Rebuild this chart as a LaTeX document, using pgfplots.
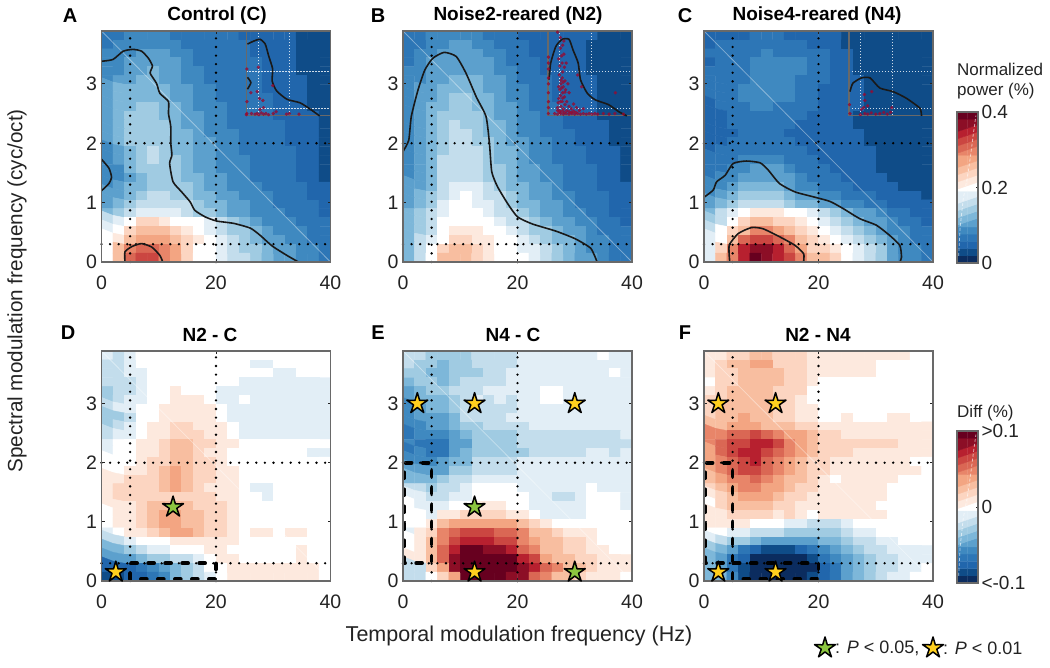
\documentclass[border=0pt]{standalone}
\usepackage{fontspec}
\setmainfont{Liberation Sans}
\usepackage{pgfplots}
\usepackage{pgfplotstable}
\pgfplotsset{compat=1.18}

% levels 0..20 of the colour scale, top row of each panel first, 20 cols (2 Hz)
\pgfplotstableread[row sep=crcr,header=false]{
3\\3\\4\\4\\4\\4\\3\\3\\3\\3\\3\\3\\2\\2\\2\\2\\2\\1\\1\\1\\
3\\4\\4\\4\\4\\4\\4\\3\\3\\3\\3\\3\\3\\2\\2\\2\\2\\1\\1\\1\\
4\\4\\4\\5\\5\\5\\4\\4\\3\\3\\3\\3\\3\\2\\2\\2\\2\\1\\1\\1\\
4\\4\\5\\5\\5\\5\\5\\4\\3\\3\\3\\3\\3\\3\\2\\2\\2\\1\\1\\1\\
4\\4\\5\\5\\6\\5\\5\\4\\4\\3\\3\\3\\3\\3\\2\\2\\2\\1\\1\\1\\
4\\5\\5\\6\\6\\5\\5\\4\\4\\3\\3\\3\\3\\3\\2\\2\\2\\2\\1\\1\\
5\\6\\6\\6\\6\\6\\5\\5\\4\\4\\3\\3\\3\\3\\2\\2\\2\\2\\1\\1\\
5\\6\\6\\6\\6\\6\\5\\5\\4\\4\\3\\3\\3\\3\\3\\2\\2\\2\\1\\1\\
5\\6\\6\\7\\7\\6\\6\\5\\4\\4\\4\\3\\3\\3\\3\\2\\2\\2\\1\\1\\
5\\6\\7\\7\\7\\6\\6\\5\\5\\4\\4\\3\\3\\3\\3\\2\\2\\2\\2\\1\\
5\\6\\7\\7\\7\\7\\6\\5\\5\\4\\4\\3\\3\\3\\3\\3\\2\\2\\2\\1\\
5\\6\\7\\7\\7\\7\\6\\6\\5\\4\\4\\4\\3\\3\\3\\3\\2\\2\\2\\1\\
5\\6\\7\\7\\7\\7\\6\\6\\5\\5\\4\\4\\3\\3\\3\\3\\2\\2\\2\\1\\
4\\5\\6\\7\\8\\7\\6\\6\\5\\5\\4\\4\\3\\3\\3\\3\\3\\2\\2\\1\\
4\\5\\6\\7\\8\\7\\7\\6\\5\\5\\4\\4\\4\\3\\3\\3\\3\\2\\2\\1\\
4\\4\\6\\7\\7\\7\\7\\6\\5\\5\\4\\4\\4\\3\\3\\3\\3\\2\\2\\1\\
4\\4\\5\\6\\7\\7\\7\\6\\6\\5\\5\\4\\4\\3\\3\\3\\3\\2\\2\\1\\
4\\5\\6\\6\\7\\7\\7\\7\\6\\5\\5\\4\\4\\4\\3\\3\\3\\3\\2\\2\\
5\\5\\6\\7\\8\\8\\7\\7\\6\\6\\5\\5\\4\\4\\4\\3\\3\\3\\2\\2\\
5\\6\\7\\8\\8\\8\\8\\8\\7\\6\\6\\5\\5\\4\\4\\3\\3\\3\\3\\2\\
6\\7\\8\\9\\9\\9\\9\\8\\7\\7\\6\\5\\5\\4\\4\\4\\3\\3\\3\\2\\
8\\9\\10\\12\\12\\11\\10\\10\\10\\9\\8\\7\\6\\5\\4\\4\\4\\3\\3\\3\\
9\\10\\12\\13\\13\\13\\12\\11\\10\\9\\8\\7\\7\\6\\5\\4\\4\\4\\3\\3\\
10\\11\\13\\14\\14\\14\\13\\12\\11\\10\\9\\8\\7\\6\\5\\5\\4\\4\\3\\3\\
10\\13\\15\\16\\16\\15\\14\\12\\10\\10\\9\\8\\7\\7\\6\\5\\5\\4\\4\\3\\
10\\13\\16\\17\\17\\15\\14\\12\\10\\10\\9\\8\\8\\7\\6\\5\\5\\4\\4\\3\\
}\tabA
\pgfplotstableread[row sep=crcr,header=false]{
3\\3\\4\\4\\4\\4\\4\\3\\3\\3\\2\\2\\2\\2\\2\\2\\2\\1\\1\\1\\
3\\3\\4\\4\\5\\5\\4\\4\\3\\3\\3\\2\\2\\2\\2\\2\\1\\1\\1\\1\\
3\\4\\4\\5\\5\\5\\5\\4\\4\\3\\3\\2\\2\\2\\2\\2\\1\\1\\1\\1\\
3\\4\\5\\5\\5\\5\\5\\5\\4\\3\\3\\3\\2\\2\\2\\2\\1\\1\\1\\1\\
4\\4\\5\\5\\5\\5\\5\\5\\4\\4\\3\\3\\2\\2\\2\\2\\1\\1\\1\\1\\
4\\4\\5\\5\\6\\6\\6\\5\\5\\4\\3\\3\\3\\2\\2\\2\\2\\1\\1\\1\\
4\\5\\5\\6\\6\\6\\6\\5\\5\\4\\4\\3\\3\\2\\2\\2\\2\\1\\1\\1\\
4\\5\\5\\6\\7\\7\\6\\6\\5\\4\\4\\3\\3\\2\\2\\2\\2\\1\\1\\1\\
4\\5\\6\\6\\7\\7\\6\\6\\5\\5\\4\\3\\3\\3\\2\\2\\2\\1\\1\\1\\
4\\5\\6\\7\\7\\7\\7\\6\\5\\5\\4\\4\\3\\3\\2\\2\\2\\1\\1\\1\\
4\\5\\6\\7\\8\\7\\7\\6\\6\\5\\4\\4\\3\\3\\2\\2\\2\\2\\1\\1\\
4\\5\\6\\7\\8\\8\\7\\6\\6\\5\\4\\4\\3\\3\\3\\2\\2\\2\\1\\1\\
4\\5\\6\\7\\8\\8\\7\\7\\6\\5\\5\\4\\4\\3\\3\\2\\2\\2\\1\\1\\
4\\5\\6\\7\\8\\8\\8\\7\\6\\6\\5\\4\\4\\3\\3\\3\\2\\2\\2\\1\\
4\\5\\6\\8\\8\\8\\8\\7\\6\\6\\5\\4\\4\\3\\3\\3\\2\\2\\2\\1\\
4\\5\\6\\8\\8\\8\\8\\7\\7\\6\\5\\5\\4\\4\\3\\3\\3\\2\\2\\1\\
4\\5\\6\\8\\8\\8\\8\\7\\7\\6\\5\\5\\4\\4\\3\\3\\3\\2\\2\\1\\
5\\5\\6\\8\\9\\9\\9\\8\\7\\6\\6\\5\\5\\4\\3\\3\\3\\2\\2\\2\\
5\\6\\7\\8\\9\\10\\9\\8\\8\\7\\6\\5\\5\\4\\4\\3\\3\\3\\2\\2\\
5\\6\\7\\9\\10\\10\\9\\9\\8\\7\\6\\6\\5\\5\\4\\3\\3\\3\\2\\2\\
6\\7\\8\\9\\10\\10\\10\\9\\8\\8\\7\\6\\5\\5\\4\\4\\3\\3\\2\\2\\
6\\7\\8\\10\\10\\10\\10\\10\\9\\8\\8\\7\\6\\5\\5\\4\\4\\3\\3\\2\\
6\\7\\8\\10\\11\\11\\11\\10\\10\\9\\8\\7\\7\\6\\5\\5\\4\\3\\3\\3\\
6\\8\\9\\10\\12\\12\\11\\11\\10\\10\\9\\8\\7\\6\\6\\5\\4\\4\\3\\3\\
6\\8\\10\\12\\13\\13\\12\\11\\10\\10\\9\\9\\8\\7\\6\\5\\4\\4\\3\\3\\
6\\8\\10\\13\\13\\13\\12\\11\\10\\10\\10\\9\\8\\7\\6\\5\\5\\4\\3\\3\\
}\tabB
\pgfplotstableread[row sep=crcr,header=false]{
2\\2\\2\\2\\3\\3\\3\\2\\2\\2\\2\\2\\1\\1\\1\\1\\1\\1\\1\\1\\
2\\3\\3\\3\\3\\3\\3\\3\\3\\2\\2\\2\\1\\1\\1\\1\\1\\1\\1\\1\\
3\\3\\3\\3\\3\\4\\3\\3\\3\\3\\3\\2\\2\\1\\1\\1\\1\\1\\1\\1\\
2\\3\\3\\3\\4\\4\\4\\4\\4\\3\\3\\2\\2\\1\\1\\1\\1\\1\\1\\1\\
3\\3\\3\\3\\4\\4\\4\\4\\4\\3\\3\\2\\2\\1\\1\\1\\1\\1\\1\\1\\
3\\3\\3\\3\\4\\4\\4\\4\\3\\3\\3\\2\\2\\2\\1\\1\\1\\1\\1\\1\\
3\\3\\3\\4\\4\\4\\4\\4\\3\\3\\2\\2\\2\\2\\1\\1\\1\\1\\1\\1\\
3\\3\\3\\4\\4\\4\\4\\4\\3\\3\\2\\2\\2\\2\\1\\1\\1\\1\\1\\1\\
2\\3\\3\\3\\4\\4\\3\\3\\3\\3\\2\\2\\2\\2\\1\\1\\1\\1\\1\\1\\
2\\2\\3\\3\\3\\3\\3\\3\\3\\2\\2\\2\\2\\1\\1\\1\\1\\1\\1\\1\\
2\\2\\3\\3\\3\\3\\3\\3\\2\\2\\2\\2\\2\\1\\1\\1\\1\\1\\1\\1\\
2\\2\\2\\3\\3\\3\\3\\2\\2\\2\\2\\2\\2\\2\\1\\1\\1\\1\\1\\1\\
2\\2\\3\\3\\3\\3\\3\\3\\2\\2\\2\\2\\2\\2\\1\\1\\1\\1\\1\\1\\
2\\3\\3\\3\\3\\3\\3\\3\\3\\2\\2\\2\\2\\2\\2\\1\\1\\1\\1\\1\\
3\\3\\3\\4\\4\\4\\4\\3\\3\\3\\2\\2\\2\\2\\2\\1\\1\\1\\1\\1\\
3\\3\\4\\4\\5\\5\\5\\4\\3\\3\\3\\2\\2\\2\\2\\1\\1\\1\\1\\1\\
3\\4\\4\\5\\5\\5\\5\\5\\4\\3\\3\\3\\2\\2\\2\\2\\1\\1\\1\\1\\
4\\4\\5\\6\\6\\6\\6\\5\\4\\4\\3\\3\\3\\2\\2\\2\\2\\1\\1\\1\\
4\\5\\6\\7\\7\\7\\7\\6\\5\\5\\4\\4\\3\\3\\3\\2\\2\\2\\2\\1\\
5\\6\\7\\8\\8\\8\\8\\7\\6\\6\\5\\5\\4\\4\\3\\3\\2\\2\\2\\2\\
6\\8\\9\\10\\11\\11\\11\\10\\10\\9\\8\\7\\6\\5\\5\\4\\3\\3\\2\\2\\
7\\8\\10\\12\\13\\13\\12\\12\\11\\10\\9\\8\\7\\6\\5\\5\\4\\3\\3\\2\\
8\\10\\12\\13\\15\\15\\14\\13\\12\\11\\10\\9\\8\\7\\6\\5\\4\\4\\3\\3\\
9\\10\\13\\16\\17\\17\\16\\15\\13\\12\\11\\10\\9\\8\\7\\6\\5\\4\\3\\3\\
9\\12\\15\\18\\19\\19\\18\\16\\14\\12\\12\\11\\10\\9\\8\\7\\5\\4\\4\\3\\
9\\13\\15\\18\\20\\19\\18\\17\\15\\13\\13\\12\\10\\9\\8\\7\\5\\4\\4\\3\\
}\tabC
\pgfplotstableread[row sep=crcr,header=false]{
9\\8\\9\\10\\10\\10\\10\\10\\10\\10\\10\\10\\10\\10\\10\\10\\10\\10\\10\\10\\
8\\8\\9\\10\\10\\10\\10\\10\\10\\10\\10\\10\\10\\9\\9\\10\\10\\10\\10\\10\\
8\\8\\9\\9\\10\\10\\10\\10\\10\\10\\10\\10\\10\\10\\10\\9\\9\\10\\10\\10\\
8\\8\\8\\9\\10\\10\\10\\10\\10\\10\\10\\10\\9\\9\\9\\9\\9\\9\\9\\9\\
7\\8\\8\\9\\10\\10\\11\\10\\10\\10\\9\\9\\9\\9\\9\\9\\9\\9\\9\\9\\
7\\8\\9\\9\\10\\10\\11\\11\\11\\10\\9\\9\\10\\9\\9\\9\\9\\9\\9\\9\\
8\\9\\9\\10\\10\\11\\11\\11\\11\\11\\10\\9\\9\\9\\9\\9\\9\\9\\9\\9\\
7\\7\\8\\10\\10\\11\\11\\11\\11\\11\\10\\9\\9\\9\\9\\9\\9\\9\\9\\9\\
7\\8\\9\\10\\11\\11\\12\\12\\11\\11\\11\\10\\9\\9\\9\\9\\9\\9\\9\\9\\
8\\9\\9\\10\\11\\11\\12\\12\\12\\11\\11\\10\\9\\9\\9\\9\\9\\9\\9\\9\\
9\\10\\10\\11\\11\\12\\13\\13\\12\\12\\11\\11\\10\\10\\10\\10\\10\\10\\10\\10\\
9\\10\\10\\11\\11\\12\\13\\13\\12\\11\\11\\10\\10\\10\\10\\10\\10\\10\\9\\9\\
10\\10\\10\\11\\12\\12\\13\\13\\12\\12\\11\\10\\10\\10\\10\\10\\10\\10\\10\\10\\
10\\10\\11\\11\\12\\13\\14\\13\\12\\12\\11\\11\\10\\10\\10\\10\\10\\10\\10\\10\\
11\\11\\12\\12\\12\\13\\14\\13\\12\\12\\11\\11\\10\\10\\10\\10\\10\\10\\10\\10\\
11\\12\\12\\12\\12\\13\\14\\13\\12\\11\\11\\11\\10\\9\\9\\10\\10\\10\\10\\10\\
11\\12\\12\\12\\12\\12\\12\\12\\12\\12\\11\\11\\10\\10\\9\\10\\10\\10\\10\\10\\
11\\11\\11\\12\\13\\13\\13\\13\\12\\12\\12\\11\\10\\10\\10\\10\\10\\10\\10\\10\\
10\\11\\11\\12\\13\\14\\14\\13\\13\\12\\12\\11\\10\\10\\10\\10\\10\\10\\10\\10\\
10\\11\\11\\12\\13\\14\\14\\13\\13\\12\\12\\11\\10\\10\\10\\10\\10\\10\\10\\10\\
9\\10\\11\\11\\12\\13\\14\\14\\13\\12\\12\\11\\10\\11\\11\\10\\11\\11\\10\\10\\
8\\8\\9\\10\\10\\10\\11\\11\\11\\11\\11\\11\\10\\10\\10\\10\\10\\10\\10\\10\\
6\\6\\7\\8\\9\\9\\10\\10\\10\\11\\11\\10\\10\\10\\10\\10\\10\\11\\10\\10\\
5\\5\\5\\6\\7\\7\\8\\8\\9\\10\\11\\11\\10\\10\\10\\10\\10\\11\\10\\10\\
2\\2\\2\\3\\4\\5\\6\\7\\8\\10\\10\\11\\11\\11\\11\\11\\11\\11\\11\\10\\
1\\1\\2\\2\\3\\4\\6\\7\\8\\9\\10\\11\\11\\11\\11\\11\\11\\11\\11\\10\\
}\tabD
\pgfplotstableread[row sep=crcr,header=false]{
8\\8\\7\\7\\7\\7\\8\\8\\8\\8\\9\\9\\9\\9\\9\\9\\9\\10\\9\\9\\
8\\7\\7\\6\\7\\7\\8\\8\\8\\8\\9\\9\\9\\9\\9\\9\\9\\9\\9\\9\\
7\\7\\6\\6\\7\\7\\7\\8\\8\\9\\9\\9\\9\\9\\9\\9\\9\\9\\10\\9\\
6\\7\\7\\6\\7\\8\\8\\8\\8\\9\\9\\9\\9\\9\\9\\9\\9\\9\\9\\9\\
5\\6\\7\\7\\8\\8\\8\\9\\9\\9\\9\\9\\10\\10\\9\\9\\9\\9\\9\\9\\
5\\6\\6\\6\\7\\8\\9\\8\\9\\8\\9\\9\\10\\10\\9\\9\\9\\9\\9\\9\\
4\\5\\6\\6\\7\\8\\8\\8\\8\\8\\9\\9\\9\\9\\9\\9\\9\\9\\9\\9\\
4\\5\\5\\5\\6\\8\\8\\8\\8\\9\\9\\9\\9\\9\\9\\9\\9\\9\\9\\9\\
4\\4\\5\\5\\6\\7\\7\\8\\8\\8\\8\\9\\9\\9\\9\\9\\9\\9\\9\\9\\
3\\4\\4\\4\\5\\6\\7\\7\\7\\7\\8\\8\\8\\8\\8\\8\\8\\8\\8\\9\\
4\\3\\3\\3\\5\\5\\7\\7\\7\\7\\8\\8\\8\\8\\8\\8\\8\\8\\8\\8\\
3\\4\\3\\3\\5\\6\\7\\7\\7\\7\\7\\8\\8\\8\\8\\8\\9\\9\\8\\9\\
4\\4\\4\\5\\6\\6\\8\\8\\8\\8\\9\\9\\9\\9\\9\\9\\9\\9\\9\\9\\
5\\5\\5\\5\\7\\7\\8\\8\\8\\8\\9\\9\\9\\9\\9\\9\\9\\9\\9\\9\\
6\\6\\6\\7\\8\\8\\9\\9\\9\\9\\9\\9\\9\\9\\9\\9\\9\\9\\9\\9\\
8\\8\\7\\8\\8\\9\\10\\10\\10\\10\\9\\9\\9\\9\\9\\9\\10\\9\\9\\9\\
9\\9\\8\\8\\9\\9\\10\\10\\10\\10\\10\\9\\9\\8\\8\\9\\10\\10\\10\\9\\
10\\9\\9\\9\\10\\10\\11\\11\\11\\10\\10\\9\\9\\9\\9\\9\\10\\10\\10\\9\\
10\\10\\9\\11\\11\\12\\12\\12\\12\\11\\11\\10\\9\\9\\9\\9\\10\\10\\10\\10\\
10\\10\\11\\13\\14\\14\\14\\14\\14\\14\\13\\12\\11\\10\\10\\10\\10\\10\\10\\10\\
9\\11\\12\\15\\16\\17\\17\\17\\16\\16\\15\\13\\13\\12\\11\\11\\11\\10\\10\\10\\
10\\11\\13\\15\\17\\18\\18\\18\\17\\17\\15\\14\\13\\13\\12\\12\\11\\10\\10\\10\\
10\\11\\13\\16\\18\\20\\20\\19\\19\\18\\16\\15\\13\\13\\12\\12\\11\\11\\10\\10\\
11\\11\\13\\16\\19\\20\\20\\20\\20\\20\\18\\17\\14\\13\\13\\12\\12\\11\\11\\11\\
8\\8\\12\\14\\19\\20\\20\\20\\20\\20\\19\\18\\16\\15\\13\\13\\12\\11\\11\\11\\
8\\8\\10\\12\\14\\20\\20\\20\\20\\19\\19\\16\\15\\13\\13\\12\\11\\11\\11\\10\\
}\tabE
\pgfplotstableread[row sep=crcr,header=false]{
11\\11\\12\\12\\13\\13\\12\\12\\12\\11\\11\\11\\11\\11\\11\\11\\11\\11\\10\\10\\
11\\12\\13\\13\\14\\14\\12\\12\\12\\11\\11\\11\\11\\11\\11\\10\\10\\10\\10\\10\\
11\\12\\12\\13\\13\\13\\13\\12\\12\\11\\11\\11\\11\\11\\11\\10\\10\\10\\10\\10\\
10\\12\\12\\13\\13\\13\\13\\12\\12\\11\\10\\10\\10\\10\\10\\10\\10\\10\\10\\10\\
11\\12\\13\\13\\13\\13\\12\\12\\12\\10\\10\\10\\10\\10\\10\\10\\10\\10\\10\\10\\
12\\12\\13\\13\\13\\13\\12\\12\\11\\10\\10\\10\\10\\10\\10\\10\\10\\10\\10\\10\\
12\\13\\13\\13\\13\\13\\12\\12\\11\\11\\10\\10\\10\\10\\10\\10\\10\\10\\10\\10\\
12\\13\\13\\14\\13\\13\\12\\12\\11\\11\\10\\10\\11\\10\\10\\10\\11\\11\\10\\10\\
13\\13\\14\\14\\14\\13\\13\\13\\12\\12\\11\\11\\11\\11\\11\\11\\11\\11\\11\\11\\
15\\15\\16\\16\\17\\16\\15\\14\\14\\13\\12\\12\\11\\11\\11\\11\\11\\11\\11\\11\\
15\\16\\17\\17\\18\\18\\17\\15\\14\\13\\12\\12\\12\\12\\12\\12\\12\\11\\11\\11\\
14\\16\\17\\18\\18\\17\\16\\15\\14\\13\\12\\12\\12\\11\\11\\11\\11\\11\\11\\11\\
14\\15\\16\\17\\18\\16\\15\\14\\13\\12\\12\\11\\11\\11\\11\\11\\11\\11\\10\\10\\
14\\15\\16\\17\\17\\16\\15\\14\\13\\12\\12\\11\\11\\11\\11\\11\\11\\11\\11\\10\\
13\\14\\15\\15\\16\\15\\14\\13\\13\\12\\11\\10\\11\\11\\11\\11\\11\\10\\10\\10\\
12\\13\\14\\15\\15\\14\\14\\13\\12\\12\\11\\11\\11\\11\\11\\11\\10\\10\\10\\10\\
11\\12\\13\\14\\14\\14\\13\\12\\12\\11\\11\\11\\11\\11\\11\\11\\10\\10\\10\\10\\
10\\12\\13\\13\\13\\13\\12\\12\\11\\11\\11\\11\\11\\11\\11\\10\\10\\10\\10\\10\\
11\\11\\12\\12\\12\\12\\11\\12\\11\\10\\11\\11\\11\\11\\11\\11\\10\\10\\10\\10\\
11\\11\\11\\11\\10\\10\\10\\9\\9\\8\\8\\8\\9\\10\\10\\10\\10\\10\\10\\10\\
10\\10\\9\\9\\8\\8\\8\\7\\7\\7\\7\\7\\8\\9\\9\\10\\10\\10\\10\\10\\
9\\8\\7\\7\\6\\5\\5\\5\\5\\5\\6\\6\\7\\8\\8\\9\\9\\10\\10\\10\\
7\\6\\5\\3\\2\\1\\1\\1\\2\\3\\4\\5\\6\\7\\8\\8\\9\\9\\9\\9\\
6\\5\\3\\2\\0\\0\\0\\0\\0\\1\\3\\4\\5\\6\\7\\8\\8\\9\\9\\9\\
6\\5\\3\\1\\0\\0\\0\\0\\0\\0\\2\\3\\5\\6\\7\\8\\8\\9\\9\\10\\
6\\6\\4\\1\\0\\0\\0\\0\\0\\1\\2\\3\\5\\6\\7\\8\\9\\9\\10\\10\\
}\tabF
\pgfplotstableread[row sep=crcr,header=false]{
0\\0\\1\\1\\2\\2\\3\\3\\4\\4\\5\\5\\6\\6\\7\\7\\8\\8\\9\\9\\10\\10\\
11\\11\\12\\12\\13\\13\\14\\14\\15\\15\\16\\16\\17\\17\\18\\18\\19\\19\\20\\20\\
}\tabBar

\pgfdeclareplotmark{astar}{%
  \pgfpathmoveto{\pgfpointpolar{90}{\pgfplotmarksize}}%
  \pgfpathlineto{\pgfpointpolar{126}{.36*\pgfplotmarksize}}%
  \pgfpathlineto{\pgfpointpolar{162}{\pgfplotmarksize}}%
  \pgfpathlineto{\pgfpointpolar{198}{.36*\pgfplotmarksize}}%
  \pgfpathlineto{\pgfpointpolar{234}{\pgfplotmarksize}}%
  \pgfpathlineto{\pgfpointpolar{270}{.36*\pgfplotmarksize}}%
  \pgfpathlineto{\pgfpointpolar{306}{\pgfplotmarksize}}%
  \pgfpathlineto{\pgfpointpolar{342}{.36*\pgfplotmarksize}}%
  \pgfpathlineto{\pgfpointpolar{18}{\pgfplotmarksize}}%
  \pgfpathlineto{\pgfpointpolar{54}{.36*\pgfplotmarksize}}%
  \pgfpathclose\pgfusepathqfillstroke}

\definecolor{sigG}{RGB}{140,198,63}
\definecolor{sigY}{RGB}{255,208,30}
\definecolor{axgray}{RGB}{105,105,105}
\definecolor{txt}{RGB}{35,35,35}
\definecolor{reddot}{RGB}{150,10,50}

\pgfplotsset{
  rdbu/.style={colormap={rdbu}{
    rgb255=(11,44,95) rgb255=(15,76,136) rgb255=(33,102,172) rgb255=(45,118,182)
    rgb255=(63,137,192) rgb255=(92,160,205) rgb255=(125,183,217) rgb255=(160,203,226)
    rgb255=(195,221,236) rgb255=(226,238,246) rgb255=(255,255,255) rgb255=(253,233,222)
    rgb255=(252,213,193) rgb255=(248,190,160) rgb255=(243,165,130) rgb255=(232,133,105)
    rgb255=(218,103,84) rgb255=(203,70,65) rgb255=(183,32,47) rgb255=(140,14,38)
    rgb255=(103,0,31)}, colormap access=direct},
  panel/.style={rdbu, scale only axis, width=229pt, height=231pt,
    xmin=0, xmax=40, ymin=0, ymax=3.89, xtick={0,20,40}, ytick={0,1,2,3},
    axis on top, clip=false, axis line style={axgray,line width=1.2pt},
    tick style={txt,line width=.8pt}, major tick length=3pt, tick align=inside,
    /pgf/number format/assume math mode=true,
    tick label style={font=\fontsize{19.5}{21}\selectfont,text=txt},
    xticklabel style={yshift=-10pt}, yticklabel style={xshift=-1pt}},
  heat/.style={matrix plot*, mesh/cols=20, point meta=explicit, forget plot},
  guide/.style={black, line width=2.6pt, line cap=round, dash pattern=on 0pt off 8.6pt, forget plot},
  box/.style={black, line width=3.6pt, line cap=round, dash pattern=on 6pt off 11pt, forget plot},
  diag/.style={white, opacity=.4, line width=.8pt, forget plot},
  ctr/.style={black!90, line width=1.6pt, smooth, tension=.35, forget plot},
  inframe/.style={draw=axgray, line width=1.5pt, opacity=1, forget plot},
  insetdot/.style={white, opacity=.8, line width=1.1pt, dash pattern=on 1.4pt off 1.6pt, forget plot},
  reddots/.style={only marks, mark=*, mark size=1.5pt, reddot, mark options={opacity=.75,draw=none}, forget plot},
  stary/.style={only marks, mark=astar, mark size=11pt, mark options={fill=sigY,draw=black,line width=1.5pt,line join=round}, forget plot},
  starg/.style={only marks, mark=astar, mark size=11pt, mark options={fill=sigG,draw=black,line width=1.5pt,line join=round}, forget plot},
}
\newcommand{\heatdata}[1]{\addplot[heat] table[x index=0, y index=0, x expr={2*mod(\coordindex,20)+1},
  y expr={3.89-0.14962*(floor(\coordindex/20)+0.5)}, meta index=0] {#1};}
\newcommand{\guides}{%
  \addplot[guide] coordinates {(5,0) (5,3.89)};
  \addplot[guide] coordinates {(20,0) (20,3.89)};
  \addplot[guide] coordinates {(0,2) (40,2)};
  \addplot[guide] coordinates {(0,0.3) (40,0.3)};
  \addplot[diag] coordinates {(0,3.89) (40,0)};}
\newcommand{\insetbox}{%
  \addplot[insetdot] coordinates {(27.4,2.47) (27.4,3.89)};
  \addplot[insetdot] coordinates {(32.9,2.47) (32.9,3.89)};
  \addplot[insetdot] coordinates {(25.3,3.21) (40,3.21)};
  \addplot[insetdot] coordinates {(25.3,2.58) (40,2.58)};
  \addplot[inframe] coordinates {(25.3,3.89) (25.3,2.47) (40,2.47)};}
\newcommand{\ttl}[3]{\node[font=\bfseries\fontsize{19}{21}\selectfont,text=black] at (#1pt,#2pt) {#3};}
\newcommand{\lett}[3]{\node[font=\bfseries\fontsize{20}{22}\selectfont,text=black] at (#1pt,#2pt) {#3};}

\begin{document}
\begin{tikzpicture}[x=1pt,y=1pt]
\useasboundingbox (0,0) rectangle (1050,668);

% A
\begin{axis}[panel, at={(101.5pt,406pt)}, anchor=south west]
\heatdata{\tabA}
\guides
\insetbox
\addplot[reddots] coordinates {(25.4,3.25) (27.4,3.28) (25.4,2.7) (25.4,2.5) (26.1,2.85) (27.2,2.87) (27.6,2.75) (28.2,2.72) (29.9,2.97) (27.7,2.57) (28.3,2.6) (26.2,2.5) (26.8,2.49) (27.2,2.5) (27.5,2.48) (27.9,2.51) (28.3,2.49) (28.7,2.5) (29.2,2.48) (30,2.5) (30.5,2.53) (32.3,2.49) (32.8,2.5) (34.5,2.49) (25.3,2.48)};
\addplot[ctr] coordinates {(0,3.38) (2,3.41) (3.8,3.55) (5.5,3.58) (7,3.55) (8.2,3.43) (8.9,3.3) (8.5,3.18) (9.6,3.01) (10.2,2.84) (11.7,2.7) (11.7,2.5) (12.1,2.28) (12.1,2) (12.3,1.8) (11.9,1.66) (12.5,1.35) (14,1.18) (15.5,1.01) (16.3,.87) (18.1,.76) (20.1,.69) (23.1,.65) (26,.57) (27.7,.45) (29.8,.27) (32.4,.11) (34.4,0)};
\addplot[ctr] coordinates {(0,1.73) (1.3,1.58) (1.75,1.43) (1.3,1.32) (0,1.2)};
\addplot[ctr] coordinates {(4.1,0) (4.1,.17) (5.3,.26) (7,.31) (8.8,.25) (10.2,.11) (10.7,0)};
\addplot[ctr] coordinates {(25.5,3.67) (26.6,3.72) (27.7,3.75) (28.6,3.67) (29.2,3.47) (29.9,3.25) (29.8,3.05) (30.6,2.88) (32.4,2.74) (34.7,2.68) (36.5,2.57) (38.1,2.46)};
\addplot[ctr] coordinates {(25.5,3.11) (26.1,3.02) (25.5,2.91)};
\end{axis}

% B
\begin{axis}[panel, at={(403pt,406pt)}, anchor=south west]
\heatdata{\tabB}
\guides
\insetbox
\addplot[reddots] coordinates {(25.4,2.5) (25.4,2.6) (25.4,2.7) (25.4,2.85) (25.4,3) (25.4,3.1) (25.4,3.25) (25.4,3.35) (25.4,3.45)
 (26.5,2.5) (27,2.49) (27.5,2.5) (28,2.49) (28.5,2.5) (29,2.49) (29.5,2.5) (30,2.49) (30.5,2.5) (31,2.49) (31.5,2.5) (32,2.49) (32.5,2.5) (33,2.49) (33.5,2.5) (34,2.49) (35,2.5) (36,2.49) (37,2.5) (38.5,2.49)
 (27,2.55) (27.4,2.52) (27.8,2.54) (28.2,2.52) (28.6,2.55) (29,2.53) (29.4,2.52) (29.8,2.54) (30.2,2.52)
 (27,2.6) (27.3,2.55) (27.6,2.62) (27.8,2.7) (28,2.58) (28.3,2.65) (27.2,2.75) (27.5,2.8) (27.9,2.85) (28.2,2.78) (28.6,2.7) (29,2.62) (29.4,2.58) (29.8,2.66) (30.3,2.6) (30.8,2.55) (31.5,2.58)
 (27.1,2.68) (27.5,2.7) (27.9,2.76) (28.3,2.86) (27.4,2.9) (27.7,2.93) (28,3.03) (27.6,3.06)
 (27.2,2.95) (27.6,3) (28,2.95) (28.3,3.05) (27.8,3.1) (27.3,3.15) (27.9,3.2) (28.4,2.9) (28.8,3) (29,2.85) (27.4,3.3) (27.8,3.35) (28.2,3.28)
 (27.2,3.42) (27.7,3.47) (28.1,3.5) (27.5,3.6) (27.9,3.65) (28.1,3.72) (27.5,3.78) (28.5,3.35) (30.5,3.15) (31.2,2.95) (37.1,2.85) (27,3.87)};
\addplot[ctr] coordinates {(0,1.86) (1,2.05) (1.45,2.45) (2.6,2.89) (3.8,3.23) (5.2,3.43) (7.2,3.53) (9.3,3.46) (11,3.18) (12.8,2.78) (14.5,2.45) (15.1,2) (15.5,1.52) (16.5,1.27) (18.3,.98) (20,.76) (22.6,.64) (26.7,.52) (30.1,.39) (32.8,.23) (33.9,0)};
\addplot[ctr] coordinates {(25.5,3.07) (25.8,3.35) (26.7,3.63) (27.8,3.75) (29,3.75) (29.7,3.57) (30.6,3.35) (31,3.07) (32.2,2.84) (33.6,2.73) (35.9,2.65) (37.7,2.53) (39.1,2.46)};
\end{axis}

% C
\begin{axis}[panel, at={(704pt,406pt)}, anchor=south west]
\heatdata{\tabC}
\guides
\insetbox
\addplot[reddots] coordinates {(25.4,2.65) (25.5,2.5) (28,2.82) (29.3,2.87) (28.1,2.72) (28.6,2.63) (27.5,2.57) (27.9,2.6) (28.1,2.5) (28.6,2.49) (29.2,2.51) (30,2.49) (30.7,2.5) (31.4,2.52) (32,2.49) (32.8,2.6) (32.6,2.52) (27.3,2.48)};
\addplot[ctr] coordinates {(0,1.09) (1.6,1.21) (2.2,1.35) (3.7,1.46) (5.1,1.66) (7.4,1.7) (9.8,1.67) (11.2,1.55) (13.2,1.32) (15.9,1.18) (19,1.1) (22,1.02) (24.3,.9) (27.2,.73) (30.1,.62) (32.4,.45) (34.2,.28) (34.5,.08) (34.2,0)};
\addplot[ctr] coordinates {(4.5,0) (4.4,.28) (6,.48) (8.3,.58) (10.3,.56) (13.3,.42) (15.9,.28) (17.4,.14) (17.4,0)};
\addplot[ctr] coordinates {(25.5,2.87) (26,3.01) (27.5,3.1) (29,3.1) (30.7,2.93) (33,2.87) (35.3,2.76) (37.7,2.59) (38,2.46)};
\end{axis}

% D
\begin{axis}[panel, height=230pt, at={(101.5pt,87pt)}, anchor=south west]
\heatdata{\tabD}
\guides
\addplot[box] coordinates {(5,.03) (5,.3) (20,.3) (20,.03) (5,.03)};
\addplot[starg] coordinates {(12.5,1.25)};
\addplot[stary] coordinates {(2.5,.15)};
\end{axis}

% E
\begin{axis}[panel, height=230pt, at={(403pt,87pt)}, anchor=south west]
\heatdata{\tabE}
\guides
\addplot[box] coordinates {(.2,.3) (.2,2) (5,2) (5,.3) (.2,.3)};
\addplot[starg] coordinates {(12.5,1.25) (30,.15)};
\addplot[stary] coordinates {(2.5,3) (12.5,3) (30,3) (12.5,.15)};
\end{axis}

% F
\begin{axis}[panel, height=230pt, at={(704pt,87pt)}, anchor=south west]
\heatdata{\tabF}
\guides
\addplot[box] coordinates {(.2,.3) (.2,2) (5,2) (5,.3) (.2,.3)};
\addplot[box] coordinates {(5,.03) (5,.3) (20,.3) (20,.03) (5,.03)};
\addplot[stary] coordinates {(2.5,3) (12.5,3) (2.5,.15) (12.5,.15)};
\end{axis}

% colour bars
\begin{axis}[rdbu, scale only axis, width=21pt, height=151pt, at={(957pt,405pt)}, anchor=south west,
  xmin=0, xmax=1, ymin=0, ymax=21, xtick=\empty, ytick={0,10.5,21}, yticklabels={0,0.2,0.4}, ytick pos=right,
  axis on top, axis line style={axgray,line width=1.2pt}, tick style={txt,line width=.8pt}, major tick length=2pt, tick align=inside,
  tick label style={font=\fontsize{19}{21}\selectfont,text=txt}]
\addplot[matrix plot*, mesh/cols=2, point meta=explicit] table[x index=0, y index=0, x expr={.25+.5*mod(\coordindex,2)}, y expr={floor(\coordindex/2)+.5}, meta index=0] {\tabBar};
\addplot[white, opacity=.6, line width=.8pt, dash pattern=on 3pt off 2pt] coordinates {(.08,1) (.15,5) (.3,9) (.5,12) (.65,15) (.78,18) (.9,20.5)};
\end{axis}
\begin{axis}[rdbu, scale only axis, width=21pt, height=152pt, at={(957pt,85pt)}, anchor=south west,
  xmin=0, xmax=1, ymin=0, ymax=21, xtick=\empty, ytick={0,10.5,21}, yticklabels={<-0.1,0,>0.1}, ytick pos=right,
  axis on top, axis line style={axgray,line width=1.2pt}, tick style={txt,line width=.8pt}, major tick length=2pt, tick align=inside,
  tick label style={font=\fontsize{19}{21}\selectfont,text=txt}]
\addplot[matrix plot*, mesh/cols=2, point meta=explicit] table[x index=0, y index=0, x expr={.25+.5*mod(\coordindex,2)}, y expr={floor(\coordindex/2)+.5}, meta index=0] {\tabBar};
\addplot[white, opacity=.6, line width=.8pt, dash pattern=on 3pt off 2pt] coordinates {(.08,1) (.15,5) (.3,9) (.5,12) (.65,15) (.78,18) (.9,20.5)};
\end{axis}

% stars of the key, on an axis in picture units
\begin{axis}[hide axis, scale only axis, width=1050pt, height=668pt, at={(0pt,0pt)}, anchor=south west,
  xmin=0, xmax=1050, ymin=0, ymax=668, clip=false]
\addplot[starg] coordinates {(825,20)};
\addplot[stary] coordinates {(933,20)};
\end{axis}

\ttl{217}{652}{Control (C)}
\ttl{518}{652}{Noise2-reared (N2)}
\ttl{817}{652}{Noise4-reared (N4)}
\ttl{210}{333}{N2 - C}
\ttl{513}{333}{N4 - C}
\ttl{818}{333}{N2 - N4}
\lett{70}{652}{A}
\lett{378}{652}{B}
\lett{685}{652}{C}
\lett{68}{335}{D}
\lett{378}{335}{E}
\lett{685}{335}{F}

\node[rotate=90,font=\fontsize{20.7}{22}\selectfont,text=txt] at (17,377) {Spectral modulation frequency (cyc/oct)};
\node[font=\fontsize{21.5}{23}\selectfont,text=txt] at (519,32) {Temporal modulation frequency (Hz)};
\node[anchor=west,inner sep=0pt,font=\fontsize{17}{20}\selectfont,text=txt,align=left] at (957,587) {Normalized\\power (\%)};
\node[anchor=west,inner sep=0pt,font=\fontsize{17}{20}\selectfont,text=txt] at (957,255) {Diff (\%)};
\node[anchor=west,inner sep=0pt,font=\fontsize{18}{20}\selectfont,text=txt] at (835,20) {: \textit{P} < 0.05,};
\node[anchor=west,inner sep=0pt,font=\fontsize{18}{20}\selectfont,text=txt] at (943,20) {: \textit{P} < 0.01};
\end{tikzpicture}
\end{document}
